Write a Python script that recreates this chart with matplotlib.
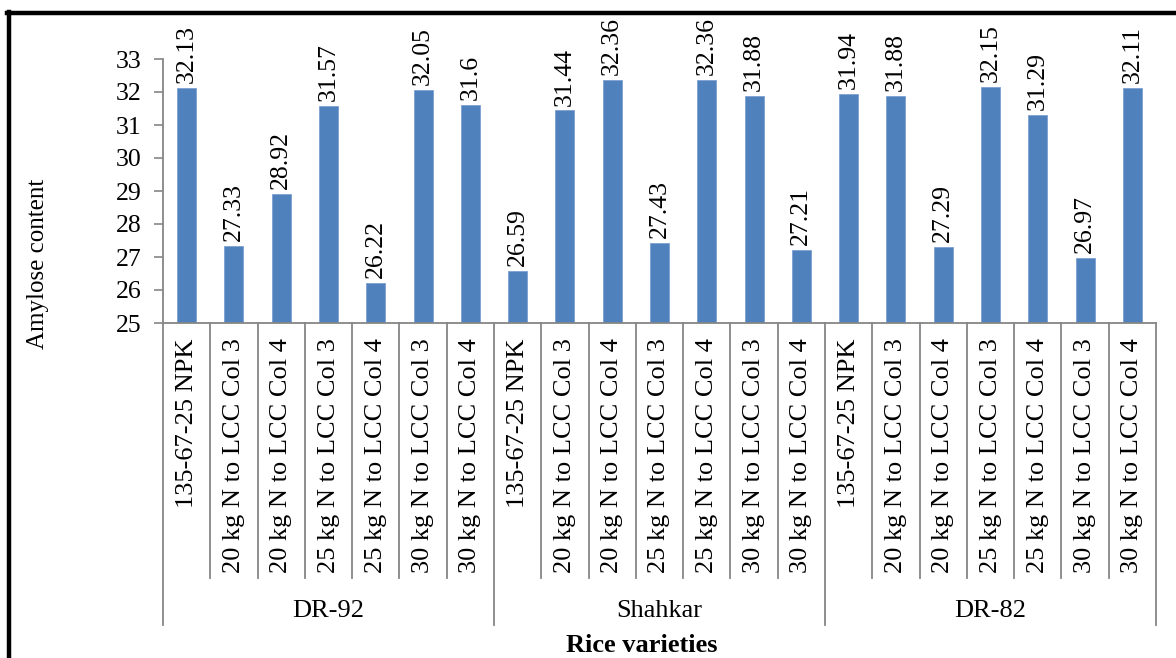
import matplotlib
matplotlib.use("Agg")
import matplotlib.pyplot as plt
from matplotlib.transforms import blended_transform_factory
from matplotlib.lines import Line2D

plt.rcParams['font.family'] = ['Liberation Serif', 'DejaVu Serif']

varieties = ["DR-92", "Shahkar", "DR-82"]
treatments = [
    "135-67-25 NPK",
    "20 kg N to LCC Col 3",
    "20 kg N to LCC Col 4",
    "25 kg N to LCC Col 3",
    "25 kg N to LCC Col 4",
    "30 kg N to LCC Col 3",
    "30 kg N to LCC Col 4",
]
dr92 = [32.13, 27.33, 28.92, 31.57, 26.22, 32.05, 31.6]
shahkar = [26.59, 31.44, 32.36, 27.43, 32.36, 31.88, 27.21]
dr82 = [31.94, 31.88, 27.29, 32.15, 31.29, 26.97, 32.11]
yticks = list(range(25, 34))

bar_color = "#4F81BD"
axis_gray = "#868686"
W, H = 1176, 658

values = dr92 + shahkar + dr82
labels = treatments * len(varieties)
xs = list(range(len(values)))
n = len(treatments)

fig = plt.figure(figsize=(W / 100, H / 100), dpi=100)
ax = fig.add_axes([163 / W, 1 - 323 / H, (1156 - 163) / W, (323 - 59) / H])

ax.bar(xs, [v - 25 for v in values], bottom=25, width=0.4,
       color=bar_color, edgecolor="#7EA1D3", linewidth=0.6)
for x, v in zip(xs, values):
    ax.text(x, v + 0.15, f"{v:g}", rotation=90, ha="center", va="bottom",
            fontsize=18.5, clip_on=False)

ax.set_xlim(-0.5, len(values) - 0.5)
ax.set_ylim(25, 33)
ax.set_yticks(yticks)
ax.set_yticklabels([str(t) for t in yticks], fontsize=18.5)
ax.tick_params(axis="y", direction="out", length=6.5, width=1.2, color=axis_gray, pad=9)
ax.set_xticks([])
for side in ["top", "right"]:
    ax.spines[side].set_visible(False)
ax.spines["left"].set_color(axis_gray)
ax.spines["bottom"].set_color(axis_gray)
ax.spines["left"].set_linewidth(1.3)
ax.spines["bottom"].set_linewidth(1.3)

# multi-level category axis: separators in data x, figure y
tr = blended_transform_factory(ax.transData, fig.transFigure)
y_axis = 1 - 323 / H
y_cat = 1 - 578 / H
y_grp = 1 - 625 / H
for i in range(len(values) + 1):
    edge = i - 0.5
    bottom = y_grp if i % n == 0 else y_cat
    ax.add_line(Line2D([edge, edge], [y_axis, bottom], transform=tr,
                       color=axis_gray, linewidth=1.3, clip_on=False))

for x, lab in zip(xs, labels):
    ax.text(x, 1 - 338 / H, lab, transform=tr, rotation=90, ha="center",
            va="top", fontsize=19)

for g, name in enumerate(varieties):
    ax.text(g * n + (n - 1) / 2, 1 - 611 / H, name, transform=tr,
            ha="center", va="center", fontsize=19)

fig.text(642 / W, 1 - 645 / H, "Rice varieties", ha="center", va="center",
         fontsize=19, fontweight="bold")
fig.text(38 / W, 1 - 264 / H, "Amylose content", rotation=90,
         ha="center", va="center", fontsize=18)

# black frame on the top and left edges
fig.add_artist(Line2D([9 / W, 9 / W], [0, 1 - 12 / H], transform=fig.transFigure,
                      color="black", linewidth=3.2))
fig.add_artist(Line2D([7 / W, 1], [1 - 13 / H, 1 - 13 / H], transform=fig.transFigure,
                      color="black", linewidth=3.2))

fig.savefig("out.png", dpi=100)
